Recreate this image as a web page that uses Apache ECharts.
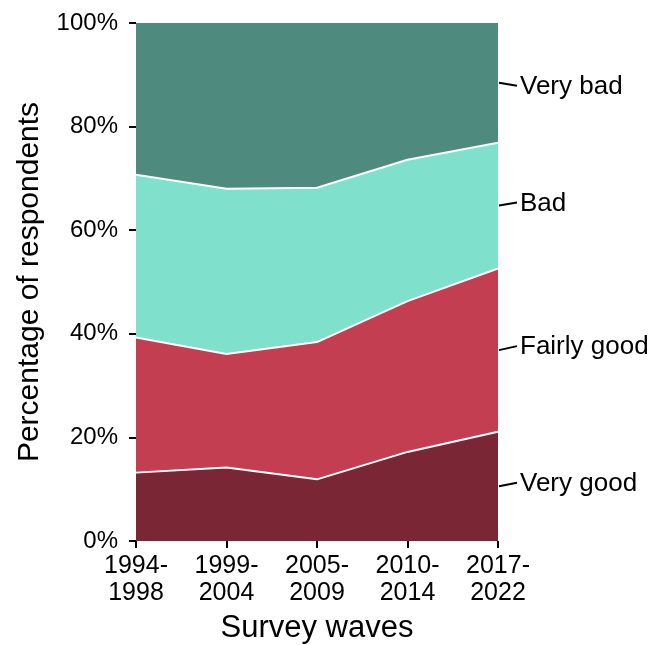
<!DOCTYPE html>
<html>
<head>
<meta charset="utf-8">
<script src="https://cdn.jsdelivr.net/npm/echarts@6/dist/echarts.min.js"></script>
<style>
  html, body { margin: 0; padding: 0; background: #fff; }
  #chart { width: 663px; height: 645px; }
</style>
</head>
<body>
<div id="chart"></div>
<script>
// survey waves
const waves = ['1994-\n1998', '1999-\n2004', '2005-\n2009', '2010-\n2014', '2017-\n2022']
// share of respondents (%), stacked bottom to top
const veryGood = [13.2, 14.2, 11.9, 17.2, 21.1]
const fairlyGood = [26.1, 21.9, 26.5, 29.1, 31.5]
const bad = [31.4, 31.9, 29.8, 27.3, 24.3]
const veryBad = [29.3, 32.0, 31.8, 26.4, 23.1]
const seriesNames = ['Very good', 'Fairly good', 'Bad', 'Very bad']
const yTicks = [0, 20, 40, 60, 80, 100]

const font = '"Liberation Sans", Arial, sans-serif'
const colors = ['#7a2634', '#c43e52', '#7fe0cb', '#4f8a7e']
const layers = [veryGood, fairlyGood, bad, veryBad]

// midpoint of each band at the last wave, for the end labels
const last = waves.length - 1
let acc = 0
const labelData = layers.map((arr, i) => {
  const mid = acc + arr[last] / 2
  acc += arr[last]
  return [last, mid, i]
})
// little leader line tilt (px) for each label
const labelDy = [-3.5, -4, -3, 3]

const chart = echarts.init(document.getElementById('chart'))

const areaSeries = layers.map((arr, i) => ({
  name: seriesNames[i],
  type: 'line',
  stack: 'total',
  symbol: 'none',
  lineStyle: { color: '#fff', width: i === 3 ? 0 : 2 },
  areaStyle: { color: colors[i], opacity: 1 },
  itemStyle: { color: colors[i] },
  z: 2 + (3 - i),
  data: arr
}))

const option = {
  animation: false,
  textStyle: { fontFamily: font },
  grid: { left: 136, right: 165, top: 23, bottom: 104, containLabel: false, outerBoundsMode: 'none' },
  xAxis: {
    type: 'category',
    boundaryGap: false,
    data: waves,
    name: 'Survey waves',
    nameLocation: 'middle',
    nameGap: 72,
    nameTextStyle: { color: '#000', fontSize: 31, fontFamily: font },
    axisLine: { show: false },
    axisTick: { show: true, length: 7, lineStyle: { color: '#000', width: 2 } },
    axisLabel: { color: '#000', fontSize: 25, lineHeight: 27, margin: 12, fontFamily: font },
    splitLine: { show: false }
  },
  yAxis: {
    type: 'value',
    min: yTicks[0],
    max: yTicks[yTicks.length - 1],
    interval: 20,
    name: 'Percentage of respondents',
    nameLocation: 'middle',
    nameGap: 91,
    nameTextStyle: { color: '#000', fontSize: 30, fontFamily: font },
    axisLine: { show: false },
    axisTick: { show: true, length: 7, lineStyle: { color: '#000', width: 2 } },
    axisLabel: { color: '#000', fontSize: 24, margin: 18, fontFamily: font, formatter: '{value}%' },
    splitLine: { show: false }
  },
  series: areaSeries.concat([{
    type: 'custom',
    clip: false,
    z: 10,
    data: labelData,
    renderItem: (params, api) => {
      const p = api.coord([api.value(0), api.value(1)])
      const i = api.value(2)
      const dy = labelDy[i]
      return {
        type: 'group',
        children: [
          {
            type: 'line',
            shape: { x1: p[0] + 1, y1: p[1], x2: p[0] + 19, y2: p[1] + dy },
            style: { stroke: '#000', lineWidth: 2 }
          },
          {
            type: 'text',
            x: p[0] + 22,
            y: p[1] + dy + 1,
            style: {
              text: seriesNames[i],
              fill: '#000',
              font: '26px ' + font,
              textAlign: 'left',
              textVerticalAlign: 'middle'
            }
          }
        ]
      }
    }
  }])
}

chart.setOption(option)
</script>
</body>
</html>
